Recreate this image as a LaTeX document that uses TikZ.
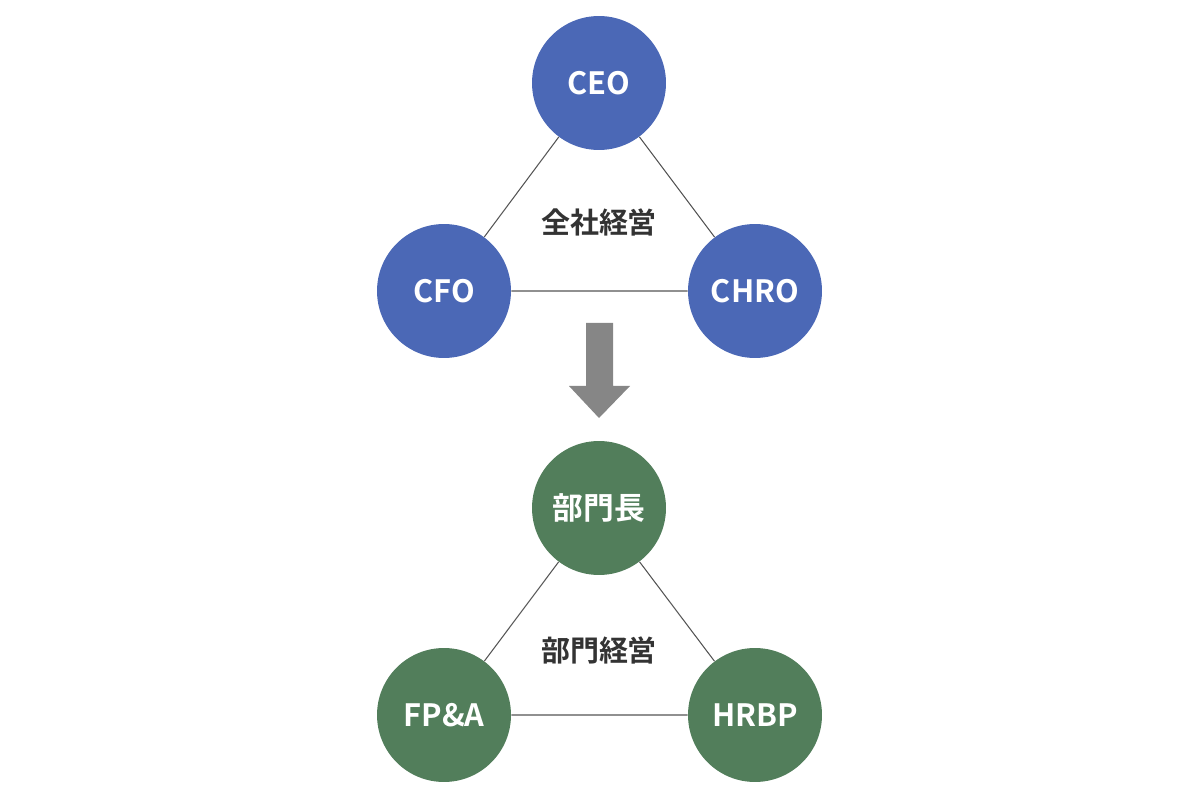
\documentclass[tikz,border=0pt]{standalone}
\usepackage{fontspec}
\setmainfont{Noto Sans CJK JP}[BoldFont={* Bold}]
\definecolor{topblue}{HTML}{4B68B6}
\definecolor{deptgreen}{HTML}{527E5B}
\definecolor{linegray}{HTML}{555555}
\definecolor{arrowgray}{HTML}{868686}
\definecolor{textgray}{HTML}{333333}
\tikzset{
  role/.style={circle,minimum size=2.68cm,inner sep=0pt,text=white,font=\bfseries\fontsize{17.5}{20}\selectfont},
  toprole/.style={role,fill=topblue},
  deptrole/.style={role,fill=deptgreen},
  link/.style={linegray,line width=0.6pt},
  center label/.style={text=textgray,font=\bfseries\fontsize{16.5}{19}\selectfont}
}
\begin{document}
\begin{tikzpicture}[x=0.02cm,y=-0.02cm]
\useasboundingbox(0,0)rectangle(1200,800);
% company level
\node[toprole](ceo)at(599,83){CEO};
\node[toprole](cfo)at(444,291){CFO};
\node[toprole](chro)at(755,291){CHRO};
\draw[link](ceo)--(cfo)(cfo)--(chro)(chro)--(ceo);
\node[center label](company)at(599,222){全社経営};
% arrow
\fill[arrowgray](586,323)--(613,323)--(613,386)--(630,386)--(599,418)--(569,386)--(586,386)--cycle;
% department level
\node[deptrole](head)at(599,508){部門長};
\node[deptrole](fpa)at(444,715){FP\&A};
\node[deptrole](hrbp)at(755,715){HRBP};
\draw[link](head)--(fpa)(fpa)--(hrbp)(hrbp)--(head);
\node[center label](dept)at(599,650){部門経営};
\end{tikzpicture}
\end{document}
